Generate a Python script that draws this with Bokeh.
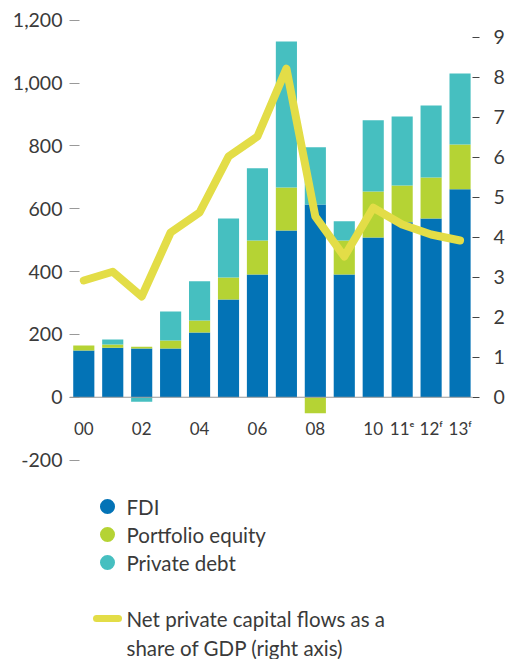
import numpy as np
from bokeh.plotting import figure
from bokeh.models import Range1d, LinearAxis, FixedTicker, Span, NumeralTickFormatter
from bokeh.layouts import column
from bokeh.embed import file_html
from bokeh.resources import INLINE
from bokeh.core.properties import value

# ---- data ----
years = ["00", "01", "02", "03", "04", "05", "06", "07", "08", "09", "10", "11", "12", "13"]
year_labels = ["00", "", "02", "", "04", "", "06", "", "08", "", "10", "11ᵉ", "12ᶠ", "13ᶠ"]
fdi = [149, 158, 155, 155, 206, 311, 391, 531, 614, 391, 509, 557, 569, 662]
portfolio_equity = [16, 10, 6, 26, 38, 70, 108, 137, -51, 108, 146, 117, 131, 143]
private_debt = [0, 16, -14, 92, 125, 188, 230, 465, 182, 61, 227, 220, 229, 226]
net_flows_gdp = [2.92, 3.14, 2.52, 4.12, 4.62, 6.02, 6.52, 8.22, 4.52, 3.52, 4.74, 4.32, 4.07, 3.92]
left_ticks = [-200, 0, 200, 400, 600, 800, 1000, 1200]
right_ticks = [0, 1, 2, 3, 4, 5, 6, 7, 8, 9]
legend_labels = ["FDI", "Portfolio equity", "Private debt"]
line_label = ["Net private capital flows as a", "share of GDP (right axis)"]

BLUE = "#0373b6"
GREEN = "#b5d334"
TEAL = "#46bfc0"
YELLOW = "#e3dd47"
TXT = "#3a3a3a"
FONT = "Lato"

BL, BR = 69, 35  # frame borders shared by both figures

x = np.arange(len(years))
series = [np.array(fdi, float), np.array(portfolio_equity, float), np.array(private_debt, float)]
colors = [BLUE, GREEN, TEAL]

p = figure(width=507, height=474, output_backend="svg", toolbar_location=None,
           x_range=Range1d(-0.494, 13.43), y_range=Range1d(-230, 1225),
           min_border_left=BL, min_border_right=BR, min_border_top=12, min_border_bottom=5)
p.outline_line_color = None
p.grid.visible = False
p.xaxis.visible = False
p.background_fill_color = None
p.border_fill_color = None

# stacked bars with negative parts drawn below zero
pos_base = np.zeros(len(x))
neg_base = np.zeros(len(x))
for vals, c in zip(series, colors):
    bottoms = np.where(vals >= 0, pos_base, neg_base + vals)
    tops = np.where(vals >= 0, pos_base + vals, neg_base)
    p.vbar(x=x, bottom=bottoms, top=tops, width=0.73, color=c, line_color=None)
    pos_base = pos_base + np.where(vals >= 0, vals, 0)
    neg_base = neg_base + np.where(vals < 0, vals, 0)

p.add_layout(Span(location=0, dimension="width", line_color="#999999", line_width=1.2))

# left axis
yax = p.yaxis[0]
yax.ticker = FixedTicker(ticks=left_ticks)
yax.formatter = NumeralTickFormatter(format="0,0")
yax.axis_line_color = None
yax.major_tick_in = 10
yax.major_tick_out = 0
yax.major_tick_line_color = "#999999"
yax.minor_tick_line_color = None
yax.major_label_standoff = 7
yax.major_label_text_font = FONT
yax.major_label_text_font_size = "19.5px"
yax.major_label_text_color = TXT

# right axis
p.extra_y_ranges = {"r": Range1d(-230 * 0.3142 / 40, 1225 * 0.3142 / 40)}
rax = LinearAxis(y_range_name="r", ticker=FixedTicker(ticks=right_ticks))
rax.axis_line_color = None
rax.major_tick_in = 0
rax.major_tick_out = 7
rax.major_tick_line_color = "#444444"
rax.minor_tick_line_color = None
rax.major_label_standoff = 14
rax.major_label_text_font = FONT
rax.major_label_text_font_size = "19.5px"
rax.major_label_text_color = TXT
p.add_layout(rax, "right")

p.line(x=x, y=net_flows_gdp, y_range_name="r", line_color=YELLOW, line_width=8,
       line_cap="round", line_join="round")

# category labels
p.text(x=x, y=[-100] * len(x), text=year_labels, text_font=value(FONT), text_font_size="17px",
       text_color=TXT, text_align="center", text_baseline="middle")

# ---- legend figure (x/y in page pixels) ----
lg = figure(width=507, height=185, output_backend="svg", toolbar_location=None,
            x_range=Range1d(BL, 507 - BR), y_range=Range1d(185, 0),
            min_border_left=BL, min_border_right=BR, min_border_top=0, min_border_bottom=0)
lg.outline_line_color = None
lg.grid.visible = False
lg.axis.visible = False
lg.background_fill_color = None
lg.border_fill_color = None

ly = [32, 60, 88]
lg.scatter(x=[107] * 3, y=ly, size=15, color=colors, line_color=None)
lg.text(x=[126] * 3, y=ly, text=legend_labels, text_font=value(FONT), text_font_size="20.5px",
        text_color=TXT, text_baseline="middle")
lg.line(x=[96, 118], y=[144, 144], line_color=YELLOW, line_width=7, line_cap="round")
lg.text(x=[126, 126], y=[144, 173], text=line_label, text_font=value(FONT), text_font_size="20.5px",
        text_color=TXT, text_baseline="middle")

layout = column(p, lg, spacing=0)
open("out.html", "w").write(file_html(layout, INLINE))
